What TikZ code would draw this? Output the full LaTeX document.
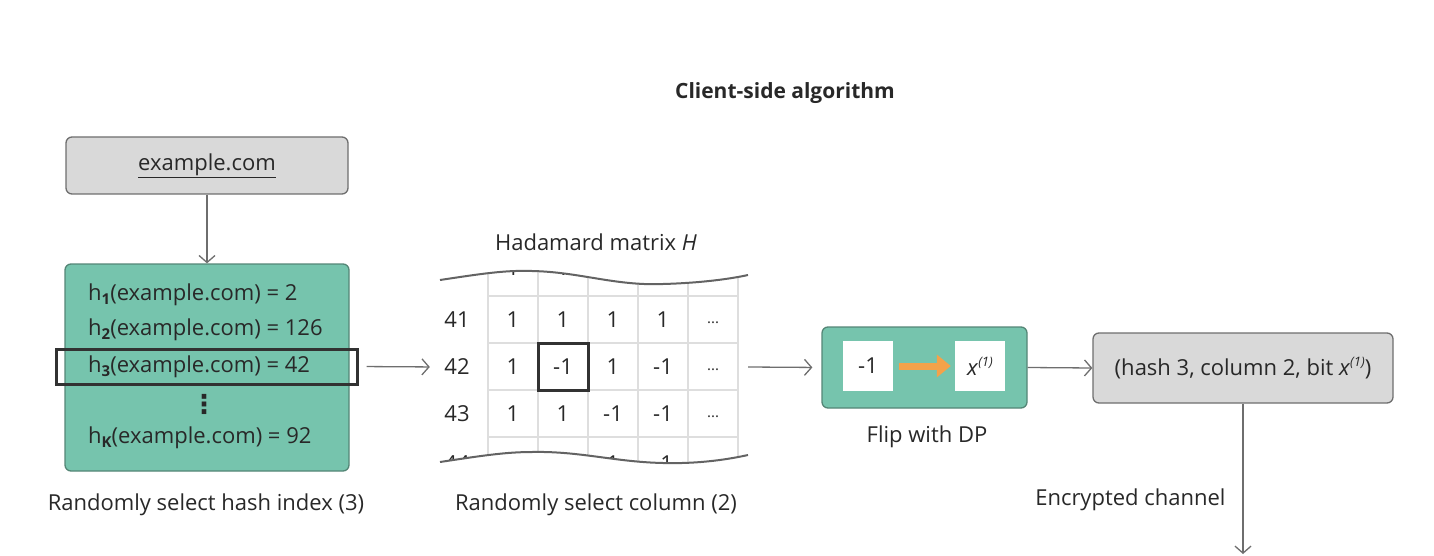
\documentclass[tikz,border=0pt]{standalone}
\usepackage{fontspec}
\setmainfont{Open Sans}
\newfontfamily\dejavu{DejaVu Sans}
\usetikzlibrary{arrows.meta}
\definecolor{tealf}{RGB}{118,196,173}
\definecolor{tealb}{RGB}{84,134,118}
\definecolor{grayf}{RGB}{217,217,217}
\definecolor{grayb}{RGB}{110,110,110}
\definecolor{txt}{RGB}{40,40,40}
\definecolor{gridc}{RGB}{222,222,222}
\definecolor{orng}{RGB}{244,162,74}
\definecolor{hlc}{RGB}{50,50,50}
\newcommand{\hsub}[1]{\raisebox{-0.35ex}{\fontsize{15}{15}\selectfont\bfseries #1}}
\newcommand{\xone}{\textit{x}\raisebox{0.75ex}{\fontsize{13}{13}\selectfont\itshape(1)}}
\begin{document}
\begin{tikzpicture}[x=1pt,y=-1pt,
  every node/.style={text=txt,font=\fontsize{22}{26}\selectfont},
  graybox/.style={draw=grayb,fill=grayf,line width=1.3pt,rounded corners=6pt,inner sep=0pt},
  greenbox/.style={draw=tealb,fill=tealf,line width=1.3pt,rounded corners=6pt,inner sep=0pt},
  whitebox/.style={fill=white,minimum width=50pt,minimum height=50pt,inner sep=0pt},
  hlbox/.style={draw=hlc,line width=3pt,inner sep=0pt},
  arr/.style={draw=grayb,line width=1.3pt,-{Straight Barb[length=7pt,width=16pt,line width=1.3pt]}},
  cell/.style={inner sep=0pt,anchor=center},
  gridl/.style={draw=gridc,line width=1.2pt},
  wave/.style={draw=grayb!90!black,line width=2pt}]
\useasboundingbox (0,0) rectangle (1434,556);

\node[font=\fontsize{21}{24}\selectfont\bfseries] (title) at (785,93) {Client-side algorithm};

% example.com box
\node[graybox,minimum width=282pt,minimum height=57pt] (ex) at (207,165.5) {\underline{example.com}};

% hash box
\node[greenbox,minimum width=284pt,minimum height=207pt] (hash) at (207,367.5) {};
\node[anchor=west,inner sep=0pt] (h1) at (88,295) {h\hsub{1}(example.com) = 2};
\node[anchor=west,inner sep=0pt] (h2) at (88,330) {h\hsub{2}(example.com) = 126};
\node[anchor=west,inner sep=0pt] (h3) at (88,367) {h\hsub{3}(example.com) = 42};
\node[font=\fontsize{26}{26}\selectfont\dejavu\bfseries,inner sep=0pt] (dots) at (204,404) {⋮};
\node[anchor=west,inner sep=0pt] (hk) at (88,438) {h\hsub{K}(example.com) = 92};
\node[hlbox,minimum width=301pt,minimum height=35pt] (hl) at (206.5,366.5) {};
\node (cap1) at (206,505) {Randomly select hash index (3)};

\draw[arr] (ex.south) -- (hash.north);

% Hadamard matrix
\node (mtitle) at (596,242) {Hadamard matrix \textit{H}};
\node[minimum width=308pt,minimum height=190pt,inner sep=0pt] (mat) at (594,367) {};
\begin{scope}
\clip (440,280) .. controls (480,274) and (505,270) .. (532,271)
  .. controls (580,272) and (615,286) .. (663,284)
  .. controls (700,283) and (730,279) .. (748,275)
  -- (748,455)
  .. controls (730,459) and (700,464) .. (663,463)
  .. controls (615,462) and (580,451) .. (532,452)
  .. controls (505,452) and (480,456) .. (440,462) -- cycle;
\foreach \x in {488,538,588,638,688,738}
  \draw[gridl] (\x,250) -- (\x,480);
\foreach \y in {249,296,343,390,437}
  \draw[gridl] (488,\y) -- (738,\y);
\foreach \lab/\y/\a/\b/\c/\d in {40/268/1/1/1/1,44/464/1/1/1/-1}{
  \node[cell] at (457,\y) {\lab};
  \node[cell] at (513,\y) {\a};
  \node[cell] at (563,\y) {\b};
  \node[cell] at (613,\y) {\c};
  \node[cell] at (663,\y) {\d};
}
\end{scope}
\foreach \lab/\y/\a/\b/\c/\d in {41/320/1/1/1/1,42/367/1/-1/1/-1,43/414/1/1/-1/-1}{
  \node[cell] (r\lab) at (457,\y) {\lab};
  \node[cell] (c\lab a) at (513,\y) {\a};
  \node[cell] (c\lab b) at (563,\y) {\b};
  \node[cell] (c\lab c) at (613,\y) {\c};
  \node[cell] (c\lab d) at (663,\y) {\d};
  \node[cell] (c\lab e) at (713,\y+3) {\fontsize{15}{15}\selectfont...};
}
\draw[wave] (440,280) .. controls (480,274) and (505,270) .. (532,271)
  .. controls (580,272) and (615,286) .. (663,284)
  .. controls (700,283) and (730,279) .. (748,275);
\draw[wave] (440,462) .. controls (480,456) and (505,452) .. (532,452)
  .. controls (580,451) and (615,462) .. (663,463)
  .. controls (700,464) and (730,459) .. (748,455);
\node[hlbox,minimum width=50pt,minimum height=47pt] (sel) at (563,366.5) {};
\node (cap2) at (596,505) {Randomly select column (2)};

\draw[arr,shorten <=8pt,shorten >=10pt] (hl.east) -- (r42.west -| mat.west);

% Flip box
\node[greenbox,minimum width=205pt,minimum height=81pt] (flip) at (924.5,367.5) {};
\node[whitebox] (m1) at (868,366) {-1};
\node[whitebox] (xv) at (980,366) {\xone};
\draw[orng,line width=7pt,-{Triangle[length=14pt,width=22pt]}] ([xshift=6pt]m1.east) -- ([xshift=-4pt]xv.west);
\node (cap3) at (927,437) {Flip with DP};

\draw[arr,shorten >=9pt] (mat.east |- r42) -- (flip.west);

% Output box
\node[graybox,minimum width=300pt,minimum height=70pt] (out) at (1243,368) {(hash 3, column 2, bit \xone)};
\draw[arr] (flip.east) -- (out.west);

\coordinate (end) at (1243,554);
\draw[arr] (out.south) -- (end);
\node[anchor=east] (enc) at (1229,500) {Encrypted channel};
\end{tikzpicture}
\end{document}
